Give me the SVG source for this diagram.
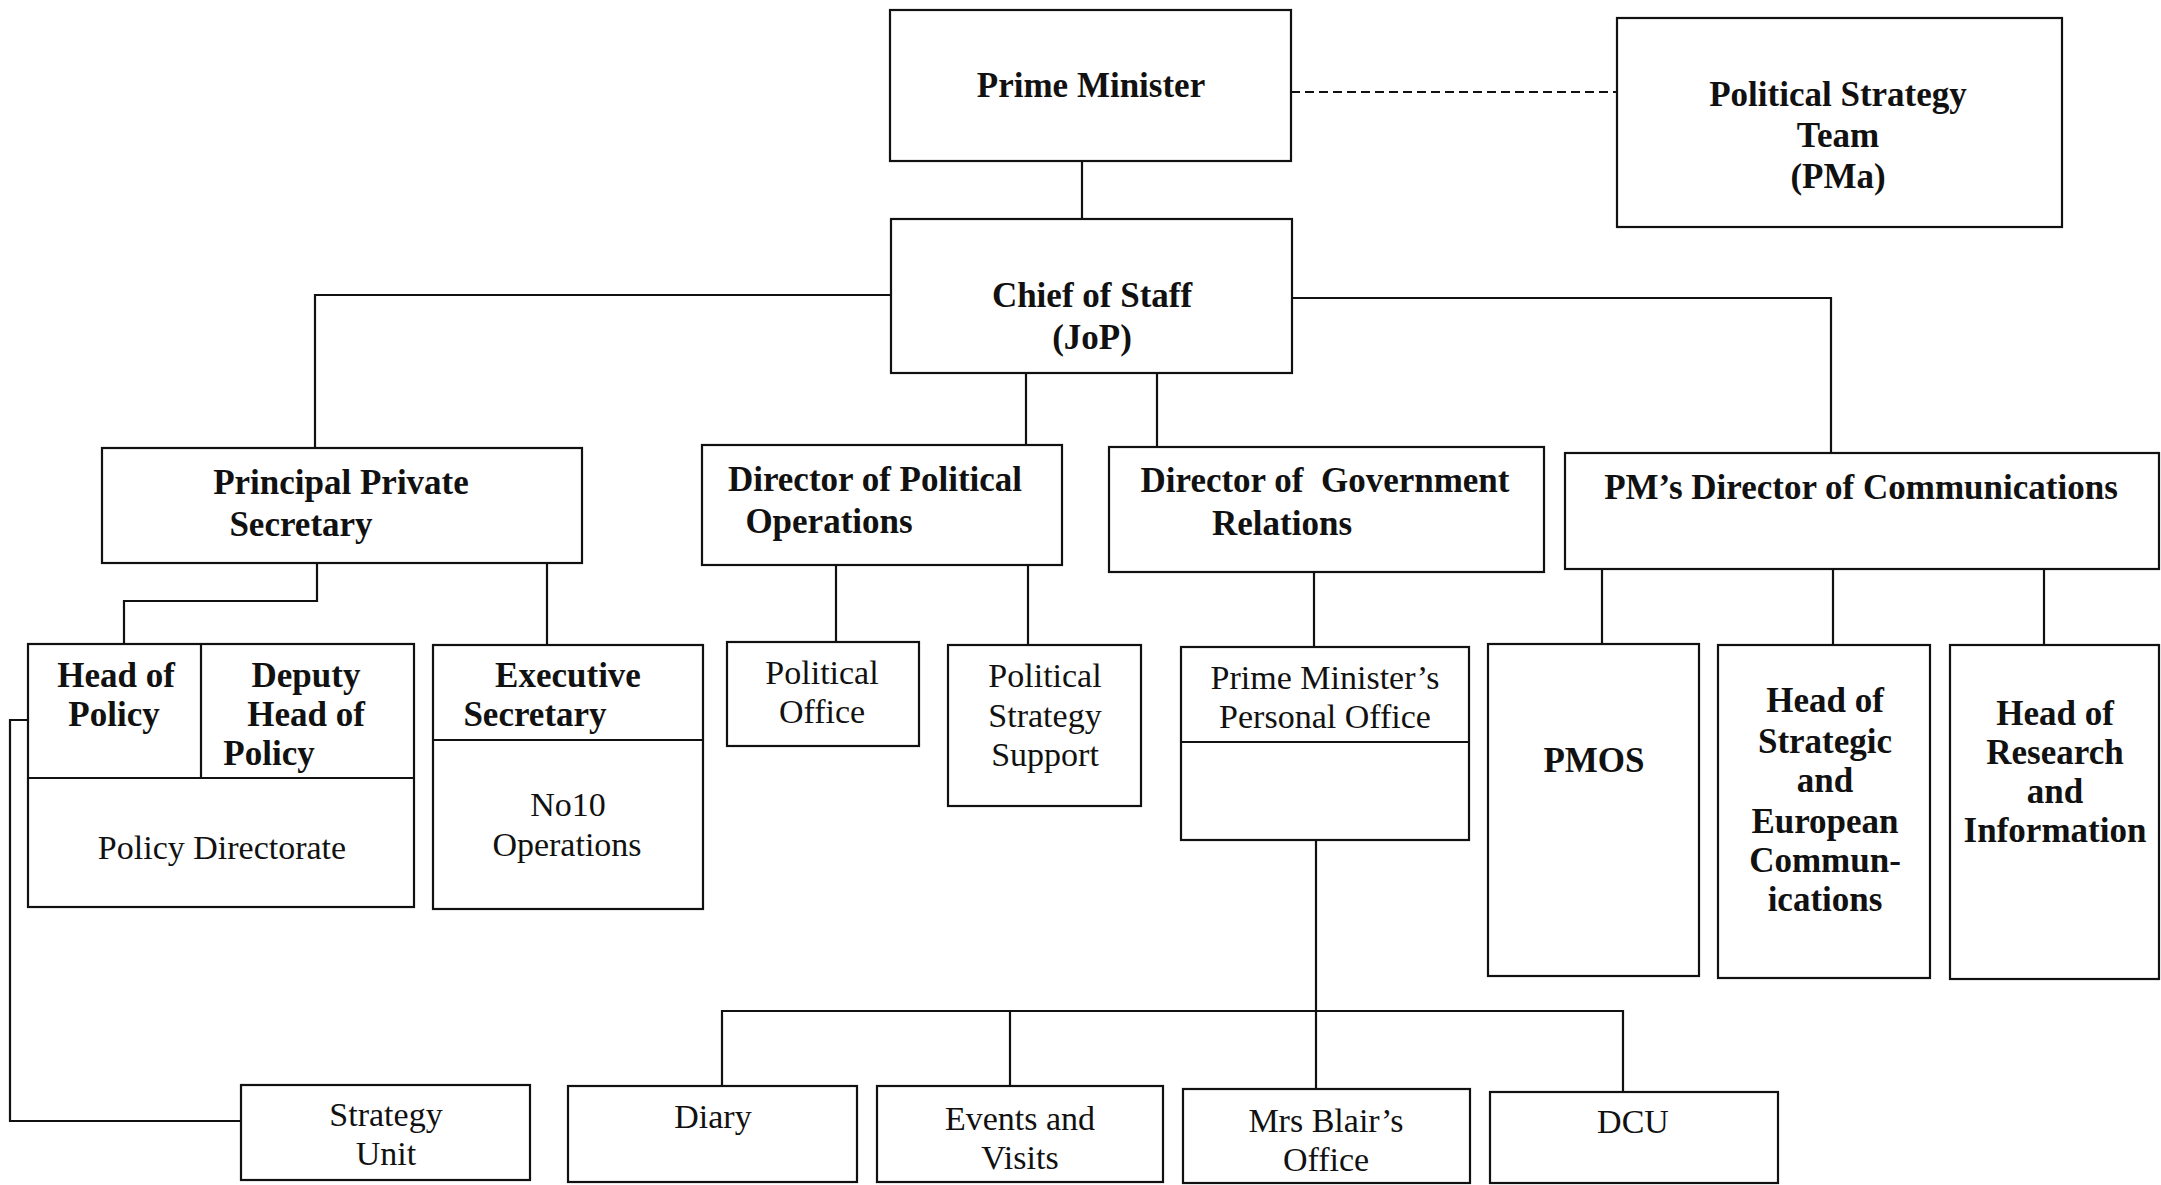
<svg xmlns="http://www.w3.org/2000/svg" width="2161" height="1185" viewBox="0 0 2161 1185">
<style>
.b{fill:#fff;stroke:#111;stroke-width:2.2}
.l{fill:none;stroke:#111;stroke-width:2.2}
.d{fill:none;stroke:#111;stroke-width:2.2;stroke-dasharray:9 5}
text{font-family:"Liberation Serif","Times New Roman",serif;fill:#111;text-anchor:middle}
.tb{font-weight:bold;font-size:35px}
.tr{font-size:34px}
</style>
<rect width="2161" height="1185" fill="#fff"/>
<g id="connectors">
<path class="d" d="M1291 92 H1617"/>
<path class="l" d="M1082 161 V219"/>
<path class="l" d="M891 295 H315 V448"/>
<path class="l" d="M1292 298 H1831 V453"/>
<path class="l" d="M1026 373 V445"/>
<path class="l" d="M1157 373 V447"/>
<path class="l" d="M317 563 V601 H124 V644"/>
<path class="l" d="M547 563 V645"/>
<path class="l" d="M836 565 V642"/>
<path class="l" d="M1028 565 V645"/>
<path class="l" d="M1314 572 V647"/>
<path class="l" d="M1602 569 V644"/>
<path class="l" d="M1833 569 V645"/>
<path class="l" d="M2044 569 V645"/>
<path class="l" d="M28 720 H10 V1121 H241"/>
<path class="l" d="M1316 840 V1089"/>
<path class="l" d="M722 1086 V1011 H1623 V1092"/>
<path class="l" d="M1010 1011 V1086"/>
</g>
<g id="prime-minister">
<rect class="b" x="890" y="10" width="401" height="151"/>
<text class="tb" x="1091" y="97">Prime Minister</text>
</g>
<g id="political-strategy-team">
<rect class="b" x="1617" y="18" width="445" height="209"/>
<text class="tb" x="1838" y="106">Political Strategy</text>
<text class="tb" x="1838" y="147">Team</text>
<text class="tb" x="1838" y="188">(PMa)</text>
</g>
<g id="chief-of-staff">
<rect class="b" x="891" y="219" width="401" height="154"/>
<text class="tb" x="1092" y="307">Chief of Staff</text>
<text class="tb" x="1092" y="349">(JoP)</text>
</g>
<g id="principal-private-secretary">
<rect class="b" x="102" y="448" width="480" height="115"/>
<text class="tb" x="341" y="494">Principal Private</text>
<text class="tb" x="301" y="536">Secretary</text>
</g>
<g id="director-political-operations">
<rect class="b" x="702" y="445" width="360" height="120"/>
<text class="tb" x="875" y="491">Director of Political</text>
<text class="tb" x="829" y="533">Operations</text>
</g>
<g id="director-government-relations">
<rect class="b" x="1109" y="447" width="435" height="125"/>
<text class="tb" x="1325" y="492" xml:space="preserve">Director of  Government</text>
<text class="tb" x="1282" y="535">Relations</text>
</g>
<g id="pm-director-communications">
<rect class="b" x="1565" y="453" width="594" height="116"/>
<text class="tb" x="1861" y="499">PM’s Director of Communications</text>
</g>
<g id="policy-directorate">
<rect class="b" x="28" y="644" width="386" height="263"/>
<path class="l" d="M28 778 H414 M201 644 V778"/>
<text class="tb" x="116" y="687">Head of</text>
<text class="tb" x="114" y="726">Policy</text>
<text class="tb" x="306" y="687">Deputy</text>
<text class="tb" x="306" y="726">Head of</text>
<text class="tb" x="269" y="765">Policy</text>
<text class="tr" x="222" y="859">Policy Directorate</text>
</g>
<g id="executive-secretary">
<rect class="b" x="433" y="645" width="270" height="264"/>
<path class="l" d="M433 740 H703"/>
<text class="tb" x="568" y="687">Executive</text>
<text class="tb" x="535" y="726">Secretary</text>
<text class="tr" x="568" y="816">No10</text>
<text class="tr" x="567" y="856">Operations</text>
</g>
<g id="political-office">
<rect class="b" x="727" y="642" width="192" height="104"/>
<text class="tr" x="822" y="684">Political</text>
<text class="tr" x="822" y="723">Office</text>
</g>
<g id="political-strategy-support">
<rect class="b" x="948" y="645" width="193" height="161"/>
<text class="tr" x="1045" y="687">Political</text>
<text class="tr" x="1045" y="727">Strategy</text>
<text class="tr" x="1045" y="766">Support</text>
</g>
<g id="pm-personal-office">
<rect class="b" x="1181" y="647" width="288" height="193"/>
<path class="l" d="M1181 742 H1469"/>
<text class="tr" x="1325" y="689">Prime Minister’s</text>
<text class="tr" x="1325" y="728">Personal Office</text>
</g>
<g id="pmos">
<rect class="b" x="1488" y="644" width="211" height="332"/>
<text class="tb" x="1594" y="772">PMOS</text>
</g>
<g id="head-strategic-european-communications">
<rect class="b" x="1718" y="645" width="212" height="333"/>
<text class="tb" x="1825" y="712">Head of</text>
<text class="tb" x="1825" y="753">Strategic</text>
<text class="tb" x="1825" y="792">and</text>
<text class="tb" x="1825" y="833">European</text>
<text class="tb" x="1825" y="872">Commun-</text>
<text class="tb" x="1825" y="911">ications</text>
</g>
<g id="head-research-information">
<rect class="b" x="1950" y="645" width="209" height="334"/>
<text class="tb" x="2055" y="725">Head of</text>
<text class="tb" x="2055" y="764">Research</text>
<text class="tb" x="2055" y="803">and</text>
<text class="tb" x="2055" y="842">Information</text>
</g>
<g id="strategy-unit">
<rect class="b" x="241" y="1085" width="289" height="95"/>
<text class="tr" x="386" y="1126">Strategy</text>
<text class="tr" x="386" y="1165">Unit</text>
</g>
<g id="diary">
<rect class="b" x="568" y="1086" width="289" height="96"/>
<text class="tr" x="713" y="1128">Diary</text>
</g>
<g id="events-visits">
<rect class="b" x="877" y="1086" width="286" height="96"/>
<text class="tr" x="1020" y="1130">Events and</text>
<text class="tr" x="1020" y="1169">Visits</text>
</g>
<g id="mrs-blairs-office">
<rect class="b" x="1183" y="1089" width="287" height="94"/>
<text class="tr" x="1326" y="1132">Mrs Blair’s</text>
<text class="tr" x="1326" y="1171">Office</text>
</g>
<g id="dcu">
<rect class="b" x="1490" y="1092" width="288" height="91"/>
<text class="tr" x="1633" y="1133">DCU</text>
</g>
</svg>
